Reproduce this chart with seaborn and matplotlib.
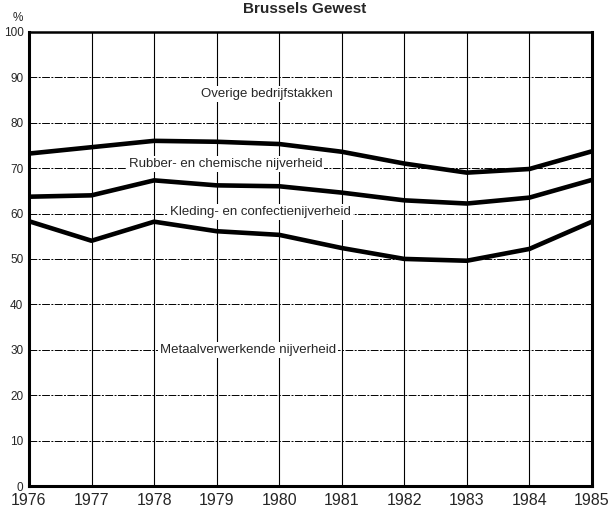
import matplotlib
matplotlib.use("Agg")
import matplotlib.pyplot as plt
import seaborn as sns
import pandas as pd

years = [1976, 1977, 1978, 1979, 1980, 1981, 1982, 1983, 1984, 1985]
top_line = [73.2, 74.6, 76.0, 75.8, 75.3, 73.6, 71.0, 69.0, 69.8, 73.7]
mid_line = [63.7, 64.0, 67.3, 66.2, 66.0, 64.6, 62.9, 62.2, 63.5, 67.4]
low_line = [58.3, 54.0, 58.2, 56.1, 55.3, 52.4, 50.0, 49.6, 52.2, 58.2]

labels = ["Overige bedrijfstakken", "Rubber- en chemische nijverheid",
          "Kleding- en confectienijverheid", "Metaalverwerkende nijverheid"]
label_x = [1979.8, 1979.14, 1979.7, 1979.5]
label_y = [86.3, 70.9, 60.4, 30.0]

y_ticks = [0, 10, 20, 30, 40, 50, 60, 70, 80, 90, 100]

df = pd.DataFrame({
    "year": years * 3,
    "value": top_line + mid_line + low_line,
    "series": ["top"] * 10 + ["mid"] * 10 + ["low"] * 10,
})

sns.set_theme(style="white")
plt.rcParams['font.family'] = ['Liberation Sans', 'DejaVu Sans']

fig = plt.figure(figsize=(6.09, 5.08), dpi=100)
ax = fig.add_axes([0.0476, 0.0433, 0.9244, 0.894])

for y in y_ticks[1:-1]:
    ax.axhline(y, color="black", lw=0.7, ls=(0, (8, 1.5, 2, 1.5)), zorder=1)
for x in years[1:-1]:
    ax.axvline(x, color="black", lw=0.8, zorder=1)

sns.lineplot(data=df, x="year", y="value", units="series", estimator=None,
             color="black", lw=3.3, ax=ax, legend=False, zorder=3)

for t, x, y in zip(labels, label_x, label_y):
    ax.text(x, y, t, ha="center", va="center", fontsize=9.5, zorder=4,
            bbox=dict(facecolor="white", edgecolor="none", pad=1.5))

ax.set_xlim(1976, 1985)
ax.set_ylim(0, 100)
ax.set_xticks(years)
ax.set_xticklabels([str(y) for y in years], fontsize=11.5)
ax.set_yticks(y_ticks)
ax.set_yticklabels([str(y) for y in y_ticks], fontsize=8.5)
ax.tick_params(axis="y", length=0, pad=4)
ax.tick_params(axis="x", length=0, pad=5)
ax.set_xlabel("")
ax.set_ylabel("")
for s in ax.spines.values():
    s.set_visible(True)
    s.set_color("black")
ax.spines["left"].set_linewidth(2.2)
ax.spines["bottom"].set_linewidth(2.2)
ax.spines["right"].set_linewidth(2.2)
ax.spines["top"].set_linewidth(1.8)

fig.text(0.5, 0.996, "Brussels Gewest", ha="center", va="top", fontsize=11,
         fontweight="bold")
fig.text(0.03, 0.965, "%", ha="center", va="center", fontsize=8.5)

fig.savefig("out.png", dpi=100)
